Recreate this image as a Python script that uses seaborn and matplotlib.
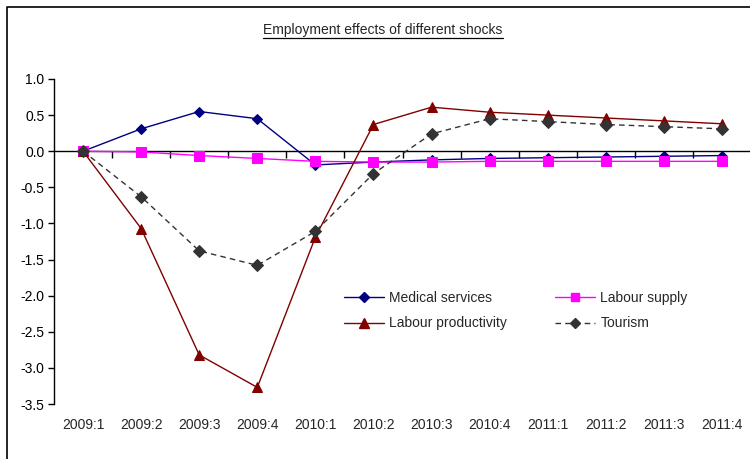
import matplotlib
matplotlib.use("Agg")
import matplotlib.pyplot as plt
from matplotlib.lines import Line2D
from matplotlib.ticker import FixedLocator, FormatStrFormatter, MultipleLocator
import numpy as np
import pandas as pd
import seaborn as sns

quarters = ["2009:1", "2009:2", "2009:3", "2009:4", "2010:1", "2010:2",
            "2010:3", "2010:4", "2011:1", "2011:2", "2011:3", "2011:4"]
medical_services = [0.00, 0.31, 0.55, 0.45, -0.19, -0.15, -0.12, -0.10, -0.09, -0.08, -0.07, -0.06]
labour_supply = [0.00, -0.01, -0.06, -0.10, -0.14, -0.15, -0.15, -0.14, -0.14, -0.14, -0.14, -0.14]
labour_productivity = [0.00, -1.07, -2.82, -3.27, -1.19, 0.37, 0.61, 0.54, 0.50, 0.46, 0.42, 0.38]
tourism = [0.00, -0.63, -1.38, -1.58, -1.11, -0.31, 0.24, 0.45, 0.41, 0.37, 0.34, 0.31]

series = {
    "Medical services": medical_services,
    "Labour supply": labour_supply,
    "Labour productivity": labour_productivity,
    "Tourism": tourism,
}
styles = {
    "Medical services": dict(color="#000080", marker="D", ms=5.5, ls="-"),
    "Labour supply": dict(color="#FF00FF", marker="s", ms=6.5, ls="-"),
    "Labour productivity": dict(color="#800000", marker="^", ms=7.5, ls="-"),
    "Tourism": dict(color="#333333", marker="D", ms=6, ls=(0, (4, 3))),
}

df = pd.DataFrame({"pos": np.arange(len(quarters)), **series})

sns.set_style("white")
plt.rcParams["font.family"] = ["Liberation Sans", "DejaVu Sans"]

fig = plt.figure(figsize=(7.5, 4.59), dpi=100)
ax = fig.add_axes([54 / 750, 1 - 404 / 459, 697 / 750, 325 / 459])

handles = {}
for name, vals in series.items():
    st = styles[name]
    sns.lineplot(data=df, x="pos", y=name, ax=ax, color=st["color"],
                 linewidth=1.0, linestyle=st["ls"], marker=st["marker"],
                 markersize=st["ms"], markeredgecolor=st["color"],
                 markerfacecolor=st["color"], zorder=3)
    handles[name] = Line2D([], [], color=st["color"], lw=1.0, ls=st["ls"],
                           marker=st["marker"], ms=st["ms"] - 0.5,
                           markerfacecolor=st["color"], markeredgecolor=st["color"])

ax.set_xlim(-0.5, len(quarters) - 0.5)
ax.set_ylim(-3.5, 1.0)
ax.set_xlabel("")
ax.set_ylabel("")

# y axis
ax.yaxis.set_major_locator(MultipleLocator(0.5))
ax.yaxis.set_major_formatter(FormatStrFormatter("%.1f"))
ax.tick_params(axis="y", left=True, direction="out", length=4, width=1,
               colors="black", labelsize=10, pad=3)

# x axis line at zero with tick marks between categories
for s in ["top", "right"]:
    ax.spines[s].set_visible(False)
ax.spines["left"].set_color("black")
ax.spines["left"].set_linewidth(1.0)
ax.spines["bottom"].set_position(("data", 0))
ax.spines["bottom"].set_color("black")
ax.spines["bottom"].set_linewidth(1.0)
ax.xaxis.set_major_locator(FixedLocator(np.arange(len(quarters))))
ax.xaxis.set_minor_locator(FixedLocator(np.arange(len(quarters)) + 0.5))
ax.tick_params(axis="x", which="major", bottom=False, labelbottom=False)
ax.tick_params(axis="x", which="minor", bottom=True, direction="out",
               length=5, width=1, colors="black")

# category labels along the bottom of the plot area
sec = ax.secondary_xaxis("bottom")
sec.set_xticks(np.arange(len(quarters)), labels=quarters)
sec.tick_params(axis="x", length=0, labelsize=10, pad=10)
sec.spines["bottom"].set_visible(False)

# legend, two rows
order = ["Medical services", "Labour productivity", "Labour supply", "Tourism"]
ax.legend([handles[n] for n in order], order, ncol=2, frameon=False,
          loc="upper left", bbox_to_anchor=(284 / 697, (404 - 285) / 325),
          fontsize=10, handlelength=2.9, handletextpad=0.35,
          columnspacing=3.5, labelspacing=0.85, borderaxespad=0)

# title with underline
title = fig.text(383 / 750, 1 - 30 / 459, "Employment effects of different shocks",
                 ha="center", va="center", fontsize=10)
fig.canvas.draw()
bb = title.get_window_extent().transformed(fig.transFigure.inverted())
fig.add_artist(Line2D([bb.x0, bb.x1], [bb.y0 - 0.003, bb.y0 - 0.003],
                      color="black", lw=0.9, transform=fig.transFigure))

# chart frame
fig.add_artist(Line2D([7 / 750, 7 / 750, 1.0], [0.0, 1 - 7 / 459, 1 - 7 / 459],
                      color="black", lw=1.2, transform=fig.transFigure))

fig.savefig("out.png", dpi=100)
